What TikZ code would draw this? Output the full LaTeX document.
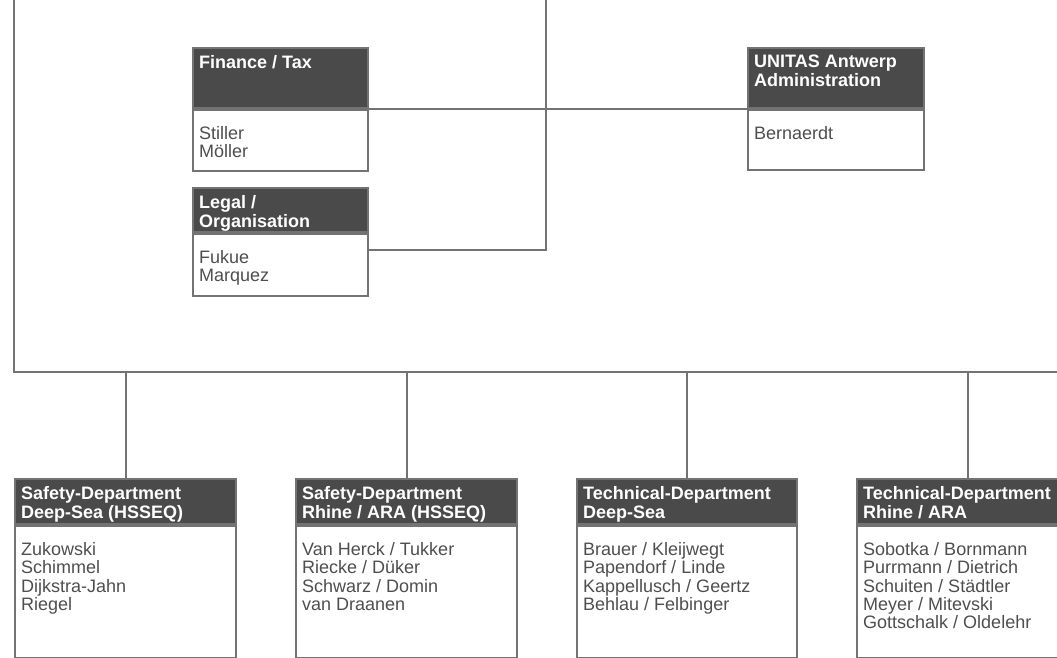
\documentclass[tikz,border=0pt]{standalone}
\usepackage{fontspec}
\setmainfont{Liberation Sans}
\usetikzlibrary{calc}

\definecolor{headgray}{HTML}{4A4A4A}
\definecolor{linegray}{HTML}{737373}
\definecolor{namegray}{HTML}{4E4E4E}

\begin{document}
\begin{tikzpicture}[
            x=1pt, y=-1pt,
            headbox/.style={
                rectangle,
                fill=headgray,
                draw=linegray,
                line width=2pt,
                anchor=north west,
                inner sep=0pt
            },
            namebox/.style={
                rectangle,
                draw=linegray,
                line width=2pt,
                anchor=north west,
                inner sep=0pt
            },
            headtext/.style={
                anchor=north west,
                align=left,
                text=white,
                font=\bfseries\fontsize{18}{19}\selectfont,
                inner xsep=7pt,
                inner ysep=8pt
            },
            nametext/.style={
                anchor=north west,
                align=left,
                text=namegray,
                font=\fontsize{18}{18.4}\selectfont,
                inner xsep=7pt,
                inner ysep=0pt,
                yshift=-17pt
            },
            link/.style={
                draw=linegray,
                line width=2pt
            }
        ]
        \useasboundingbox (0,0) rectangle (1057,657);

        % upper staff units
        \node[headbox, minimum width=175pt, minimum height=60pt] (fin-head) at (192,47) {};
        \node[headtext] (fin-title) at (fin-head.north west) {Finance / Tax};
        \node[namebox, minimum width=175pt, minimum height=61pt] (fin) at (fin-head.south west) {};
        \node[nametext] (fin-names) at (fin.north west) {Stiller\\Möller};

        \node[headbox, minimum width=175pt, minimum height=44pt] (legal-head) at (192,187) {};
        \node[headtext] (legal-title) at (legal-head.north west) {Legal /\\Organisation};
        \node[namebox, minimum width=175pt, minimum height=62pt] (legal) at (legal-head.south west) {};
        \node[nametext] (legal-names) at (legal.north west) {Fukue\\Marquez};

        \node[headbox, minimum width=176pt, minimum height=60pt] (unitas-head) at (747,47) {};
        \node[headtext] (unitas-title) at (unitas-head.north west) {UNITAS Antwerp\\Administration};
        \node[namebox, minimum width=176pt, minimum height=60pt] (unitas) at (unitas-head.south west) {};
        \node[nametext] (unitas-names) at (unitas.north west) {Bernaerdt};

        % departments
        \node[headbox, minimum width=221pt, minimum height=45pt] (sd-deep-head) at (14,478) {};
        \node[headtext] (sd-deep-title) at (sd-deep-head.north west) {Safety-Department\\Deep-Sea (HSSEQ)};
        \node[namebox, minimum width=221pt, minimum height=132pt] (sd-deep) at (sd-deep-head.south west) {};
        \node[nametext] (sd-deep-names) at (sd-deep.north west) {Zukowski\\Schimmel\\Dijkstra-Jahn\\Riegel};

        \node[headbox, minimum width=221pt, minimum height=45pt] (sd-rhine-head) at (295,478) {};
        \node[headtext] (sd-rhine-title) at (sd-rhine-head.north west) {Safety-Department\\Rhine / ARA (HSSEQ)};
        \node[namebox, minimum width=221pt, minimum height=132pt] (sd-rhine) at (sd-rhine-head.south west) {};
        \node[nametext] (sd-rhine-names) at (sd-rhine.north west) {Van Herck / Tukker\\Riecke / Düker\\Schwarz / Domin\\van Draanen};

        \node[headbox, minimum width=220pt, minimum height=45pt] (td-deep-head) at (576,478) {};
        \node[headtext] (td-deep-title) at (td-deep-head.north west) {Technical-Department\\Deep-Sea};
        \node[namebox, minimum width=220pt, minimum height=132pt] (td-deep) at (td-deep-head.south west) {};
        \node[nametext] (td-deep-names) at (td-deep.north west) {Brauer / Kleijwegt\\Papendorf / Linde\\Kappellusch / Geertz\\Behlau / Felbinger};

        \node[headbox, minimum width=221pt, minimum height=45pt] (td-rhine-head) at (856,478) {};
        \node[headtext] (td-rhine-title) at (td-rhine-head.north west) {Technical-Department\\Rhine / ARA};
        \node[namebox, minimum width=221pt, minimum height=132pt] (td-rhine) at (td-rhine-head.south west) {};
        \node[nametext] (td-rhine-names) at (td-rhine.north west) {Sobotka / Bornmann\\Purrmann / Dietrich\\Schuiten / Städtler\\Meyer / Mitevski\\Gottschalk / Oldelehr};

        % connectors
        \coordinate (frame-top) at (14,0);
        \coordinate (rail-end) at (1057,372);
        \coordinate (board-line) at (546,0);
        \draw[link] (frame-top) |- (rail-end);
        \draw[link] (fin-head.south east) -- (unitas-head.south west);
        \draw[link] ([yshift=-17pt]legal-head.south east) -| (board-line);
        \draw[link] (sd-deep-head.north) -- (sd-deep-head.north |- rail-end);
        \draw[link] (sd-rhine-head.north) -- (sd-rhine-head.north |- rail-end);
        \draw[link] (td-deep-head.north) -- (td-deep-head.north |- rail-end);
        \draw[link] (td-rhine-head.north) -- (td-rhine-head.north |- rail-end);
        \end{tikzpicture}
\end{document}
